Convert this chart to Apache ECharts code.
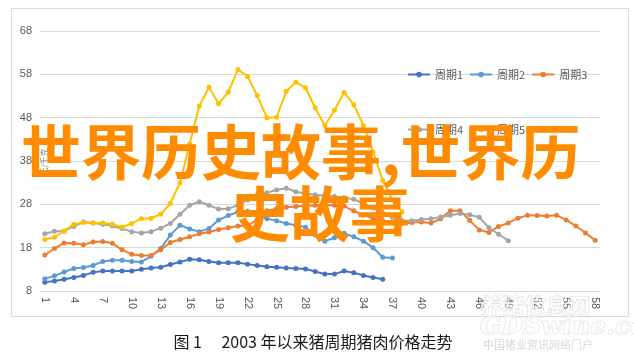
<!DOCTYPE html>
<html>
<head>
<meta charset="utf-8">
<script src="https://cdn.jsdelivr.net/npm/echarts@6/dist/echarts.min.js"></script>
<style>
html,body{margin:0;padding:0;background:#fff;}
#chart{width:634px;height:358px;}
</style>
</head>
<body>
<div id="chart"></div>
<script>
// ---- data ----
var categories = [];
for (var i = 1; i <= 58; i++) categories.push(String(i));

var seriesNames = ['周期1', '周期2', '周期3', '周期4', '周期5'];

var period1 = [10.0, 10.3, 10.7, 11.1, 11.6, 12.3, 12.6, 12.6, 12.6, 12.6, 13.0, 13.3, 13.5, 14.1, 14.7, 15.3, 15.2, 14.8, 14.5, 14.5,
               14.5, 14.2, 13.9, 13.6, 13.5, 13.3, 13.2, 13.1, 12.5, 11.9, 11.9, 12.6, 12.2, 11.6, 11.1, 10.7];
var period2 = [10.8, 11.5, 12.4, 13.2, 13.4, 13.9, 14.8, 15.1, 15.1, 14.8, 14.7, 16.0, 17.8, 20.9, 23.2, 22.3, 21.7, 22.4, 24.4, 25.4,
               26.3, 26.4, 25.5, 24.7, 24.2, 23.6, 23.2, 22.7, 20.9, 19.5, 20.3, 21.3, 20.5, 19.5, 18.0, 15.8, 15.6];
var period3 = [16.3, 17.8, 19.1, 19.0, 18.7, 19.3, 19.4, 19.0, 17.5, 16.5, 16.2, 16.2, 17.5, 19.2, 19.9, 20.5, 21.2, 21.6, 22.2, 22.6,
               23.0, 23.1, 24.5, 26.5, 27.0, 27.3, 27.5, 27.6, 27.8, 27.8, 27.8, 27.6, 26.5, 25.5, 24.8, 24.2, 23.8, 23.6, 23.8, 23.9,
               23.7, 24.7, 26.5, 26.5, 24.3, 22.1, 21.5, 22.9, 23.7, 24.8, 25.5, 25.4, 25.3, 25.5, 24.4, 23.0, 21.4, 19.7];
var period4 = [21.2, 21.8, 21.8, 22.9, 23.9, 23.7, 23.4, 23.0, 22.4, 21.7, 21.4, 21.7, 22.5, 23.6, 25.7, 27.8, 28.6, 27.8, 26.9, 27.0,
               27.8, 29.0, 30.2, 30.7, 31.3, 31.7, 30.9, 30.5, 30.2, 30.0, 29.8, 29.5, 29.2, 28.2, 27.2, 26.0, 25.0, 24.2, 24.2, 24.5,
               24.7, 25.1, 25.5, 25.9, 25.6, 25.0, 22.6, 21.1, 19.6];
var period5 = [19.9, 20.4, 21.9, 23.4, 23.8, 23.7, 23.7, 23.4, 22.7, 23.6, 24.7, 24.8, 25.7, 28.2, 33.0, 42.0, 50.7, 55.0, 51.2, 53.9,
               59.1, 57.5, 53.1, 48.0, 48.1, 54.1, 56.2, 54.9, 50.3, 46.2, 49.7, 53.8, 51.0, 46.2, 40.1, 33.5, 29.0, 26.3];

var yMin = 8, yMax = 68, yStep = 10;
var yAxisName = '元/千克';
var caption = '图 1\u3000 2003 年以来猪周期猪肉价格走势';
var overlayLine1 = '世界历史故事,世界历';
var overlayLine2 = '史故事';

// ---- chart ----
var colors = ['#4472C4', '#5B9BD5', '#ED7D31', '#A5A5A5', '#FFC000'];
var allData = [period1, period2, period3, period4, period5];

var chart = echarts.init(document.getElementById('chart'));
var cjk = '"Noto Sans CJK SC", "Noto Sans", sans-serif';

var series = seriesNames.map(function (name, k) {
  return {
    name: name,
    type: 'line',
    data: allData[k],
    symbol: 'circle',
    symbolSize: 5,
    lineStyle: { width: 2, color: colors[k] },
    itemStyle: { color: colors[k] },
    emphasis: { disabled: true },
    animation: false,
    z: 2 + k
  };
});

var legendCommon = {
  orient: 'horizontal',
  left: 407,
  padding: 0,
  itemWidth: 22,
  itemHeight: 7,
  itemGap: 6,
  textStyle: { fontSize: 11, color: '#595959', fontFamily: cjk }
};

chart.setOption({
  backgroundColor: '#ffffff',
  color: colors,
  animation: false,
  textStyle: { fontFamily: cjk },
  grid: { left: 40, right: 34, top: 31, bottom: 67, outerBoundsMode: 'none' },
  legend: [
    Object.assign({}, legendCommon, { top: 69, data: seriesNames.slice(0, 3) }),
    Object.assign({}, legendCommon, { top: 124, data: seriesNames.slice(3) })
  ],
  xAxis: {
    type: 'category',
    data: categories,
    boundaryGap: true,
    axisLine: { show: true, lineStyle: { color: '#D9D9D9', width: 1 } },
    axisTick: { show: false },
    axisLabel: { interval: 2, rotate: -90, margin: 6, color: '#595959', fontSize: 11, fontFamily: 'Liberation Sans, Arial, sans-serif' },
    splitLine: { show: false }
  },
  yAxis: {
    type: 'value',
    min: yMin,
    max: yMax,
    interval: yStep,
    axisLine: { show: false },
    axisTick: { show: false },
    axisLabel: { margin: 8, color: '#595959', fontSize: 11, fontFamily: 'Liberation Sans, Arial, sans-serif' },
    splitLine: { lineStyle: { color: '#D9D9D9', width: 1 } }
  },
  series: series,
  graphic: [
    { type: 'rect', z: 0, silent: true, shape: { x: 11.5, y: 8.5, width: 617, height: 308 },
      style: { fill: 'none', stroke: '#D9D9D9', lineWidth: 1 } },
    { type: 'text', z: 1, silent: true, rotation: Math.PI / 2,
      x: 44, y: 162,
      style: { text: yAxisName, align: 'center', verticalAlign: 'middle', font: '8px ' + cjk, fill: '#7f7f7f' } },
    // watermark
    { type: 'text', z: 50, silent: true,
      style: { text: '养猪信息网', x: 480, y: 306, verticalAlign: 'middle', font: 'bold 22px ' + cjk,
               fill: 'rgba(255,255,255,0.55)', stroke: 'rgba(190,190,190,0.45)', lineWidth: 1 } },
    { type: 'text', z: 50, silent: true,
      style: { text: 'GDSwine.com', x: 480, y: 327, verticalAlign: 'middle', font: 'italic bold 25px "DejaVu Serif", serif',
               fill: 'rgba(255,255,255,0.6)', stroke: 'rgba(190,190,190,0.45)', lineWidth: 1 } },
    { type: 'text', z: 50, silent: true,
      style: { text: '中国猪业资讯网络门户', x: 483, y: 345, verticalAlign: 'middle', font: '11px ' + cjk,
               fill: 'rgba(200,200,200,0.7)' } },
    // caption
    { type: 'text', z: 50, silent: true,
      style: { text: caption, x: 313, y: 342, align: 'center', verticalAlign: 'middle', font: '16px ' + cjk, fill: '#1a1a1a' } },
    // overlay title
    { type: 'text', z: 100, silent: true,
      style: { text: overlayLine1, x: 21, y: 152, verticalAlign: 'middle', font: 'bold 60px ' + cjk, fill: '#FF8C00' } },
    { type: 'text', z: 100, silent: true,
      style: { text: overlayLine2, x: 230, y: 214, verticalAlign: 'middle', font: 'bold 60px ' + cjk, fill: '#FF8C00' } }
  ]
});
</script>
</body>
</html>
